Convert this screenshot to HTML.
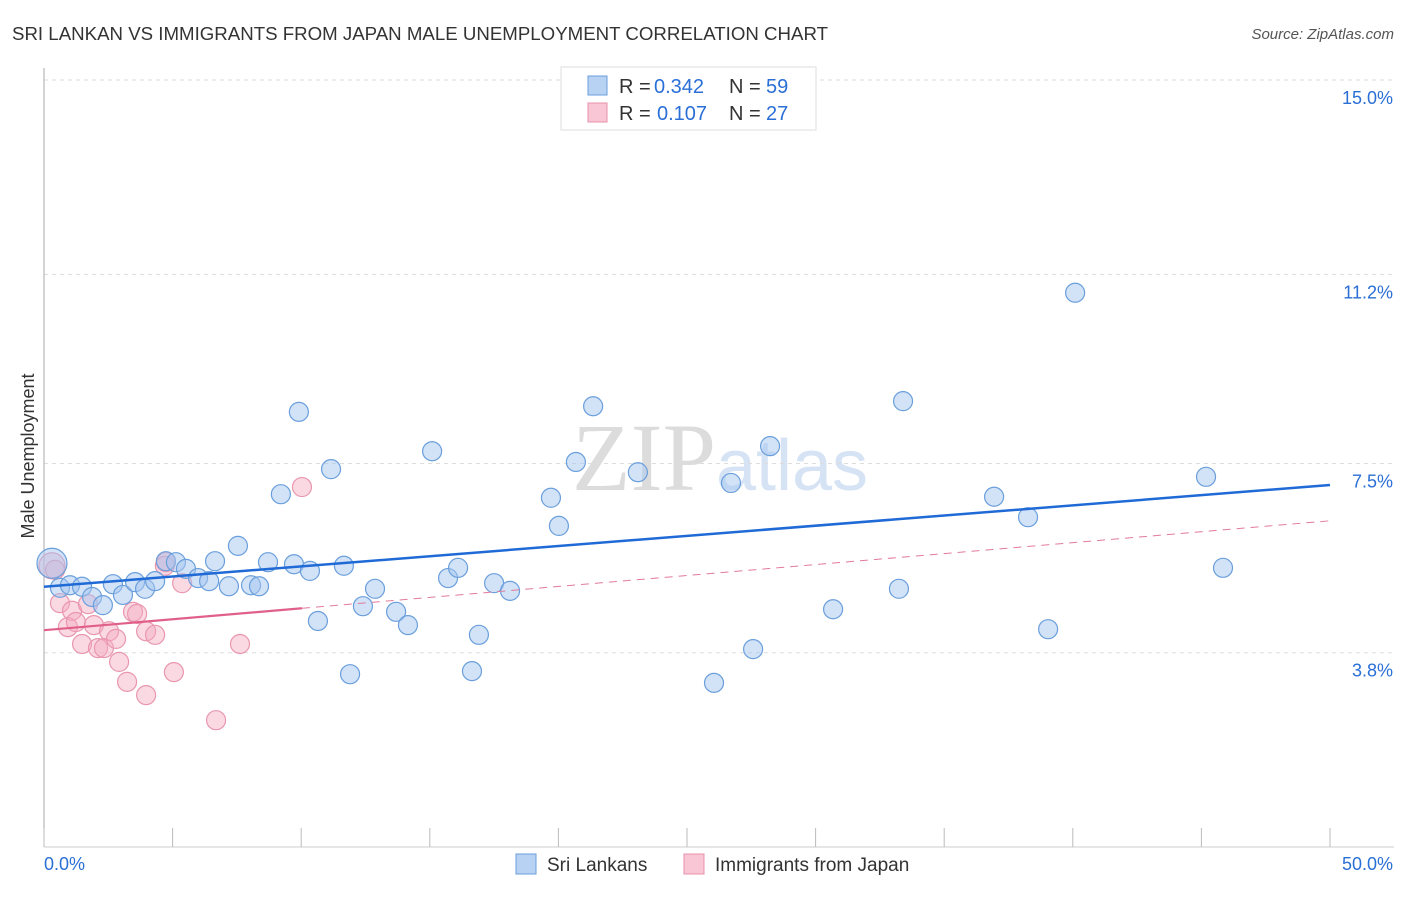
<!DOCTYPE html>
<html><head><meta charset="utf-8"><style>
body{margin:0;background:#fff;font-family:"Liberation Sans",sans-serif;}
svg text{font-family:"Liberation Sans",sans-serif;}
</style></head><body>
<svg width="1406" height="892" id="chart">
<text x="12" y="40" font-size="18" fill="#333" textLength="816" lengthAdjust="spacingAndGlyphs">SRI LANKAN VS IMMIGRANTS FROM JAPAN MALE UNEMPLOYMENT CORRELATION CHART</text>
<text x="1394" y="39" font-size="15" fill="#555" font-style="italic" text-anchor="end">Source: ZipAtlas.com</text>
<text x="720" y="490" font-size="96" fill="#e3e7ee" text-anchor="middle" font-family="Liberation Serif"><tspan fill="#dcdcdc" font-family="Liberation Serif">ZIP</tspan><tspan fill="#d5e3f5" font-size="72" font-family="Liberation Sans">atlas</tspan></text>
<g id="grid"></g>
<g id="marks"></g>
<text transform="translate(34,456) rotate(-90)" font-size="18" fill="#333" text-anchor="middle">Male Unemployment</text>
<g>
<rect x="561" y="67" width="255" height="63" fill="#fff" stroke="#ddd"/>
<rect x="588" y="76" width="19" height="19" fill="#b8d2f4" stroke="#6a9fdc"/>
<text x="619" y="93" font-size="20" fill="#333">R =</text>
<text x="654" y="93" font-size="20" fill="#2a6fd6">0.342</text>
<text x="729" y="93" font-size="20" fill="#333">N =</text>
<text x="766" y="93" font-size="20" fill="#2a6fd6">59</text>
<rect x="588" y="103" width="19" height="19" fill="#f8c6d4" stroke="#e890aa"/>
<text x="619" y="120" font-size="20" fill="#333">R =</text>
<text x="657" y="120" font-size="20" fill="#2a6fd6">0.107</text>
<text x="729" y="120" font-size="20" fill="#333">N =</text>
<text x="766" y="120" font-size="20" fill="#2a6fd6">27</text>
</g>
<g>
<rect x="516" y="854" width="20" height="20" fill="#b8d2f4" stroke="#6a9fdc"/>
<text x="547" y="871" font-size="19" fill="#333">Sri Lankans</text>
<rect x="684" y="854" width="20" height="20" fill="#f8c6d4" stroke="#e890aa"/>
<text x="715" y="871" font-size="19" fill="#333">Immigrants from Japan</text>
</g>
</svg>
<script>
const blueX=[0.31,0.62,1.01,1.48,1.87,2.29,2.68,3.07,3.54,3.93,4.32,4.74,5.13,5.52,5.99,6.42,6.65,7.19,7.54,8.05,8.36,8.71,9.21,9.72,9.91,10.34,10.65,11.16,11.66,11.90,12.40,12.87,13.69,14.15,15.09,15.71,16.10,16.64,16.91,17.50,18.12,19.71,20.02,20.68,21.35,23.09,26.05,26.71,27.57,28.23,30.68,33.24,33.40,36.94,38.26,39.04,40.09,45.18,45.84];
const blueY=[5.55,5.07,5.12,5.09,4.89,4.73,5.14,4.93,5.18,5.05,5.20,5.59,5.57,5.44,5.26,5.20,5.59,5.10,5.89,5.12,5.10,5.57,6.90,5.53,8.51,5.40,4.42,7.39,5.50,3.38,4.71,5.05,4.60,4.34,7.74,5.26,5.46,3.44,4.15,5.16,5.01,6.83,6.28,7.53,8.62,7.33,3.21,7.12,3.87,7.84,4.65,5.05,8.72,6.85,6.45,4.26,10.84,7.24,5.46];
const pinkX=[0.31,0.43,0.62,0.93,1.09,1.24,1.48,1.71,1.94,2.10,2.33,2.53,2.80,2.92,3.23,3.46,3.62,3.97,3.97,4.32,4.74,4.70,5.05,5.37,6.69,7.62,10.03];
const pinkY=[5.50,5.42,4.77,4.30,4.62,4.40,3.97,4.75,4.34,3.89,3.89,4.22,4.07,3.62,3.23,4.60,4.56,2.97,4.22,4.15,5.57,5.50,3.42,5.16,2.48,3.97,7.04];
const yTicks=[3.8,7.5,11.2,15.0];
const yTickLabels=["3.8%","7.5%","11.2%","15.0%"];
const xTickLabels=["0.0%","50.0%"];
const blueTrend=[5.09,7.08];
const pinkTrend=[4.24,6.38];
const pinkSolidEnd=10.03;

const X=v=>44+v*25.72, Y=v=>847-v*51.13;
const NS="http://www.w3.org/2000/svg";
function mk(t,a,p){const e=document.createElementNS(NS,t);for(const k in a)e.setAttribute(k,a[k]);p.appendChild(e);return e;}
const grid=document.getElementById('grid'), marks=document.getElementById('marks');
yTicks.forEach((v,i)=>{
 const l=mk('line',{x1:44,x2:1394,y1:Y(v),y2:Y(v),stroke:'#ddd','stroke-dasharray':'4,4'},grid);
 
 
 const t=mk('text',{x:1393,y:Y(v)+24,'font-size':18,fill:'#2a6fd6','text-anchor':'end'},grid);
 t.textContent=yTickLabels[i];
 
 
});
const ax=mk('line',{x1:44,x2:44,y1:68,y2:847,stroke:'#aaa'},grid);


const bx=mk('line',{x1:44,x2:1394,y1:847,y2:847,stroke:'#ccc'},grid);


for(let i=0;i<=10;i++){const tk=mk('line',{x1:X(i*5),x2:X(i*5),y1:828,y2:847,stroke:'#bbb'},grid);
 
 }
[[0,44,'start'],[1,1393,'end']].forEach(([i,x,a])=>{const t=mk('text',{x:x,y:870,'font-size':18,fill:'#2a6fd6','text-anchor':a},grid);t.textContent=xTickLabels[i];
 
 });
pinkX.forEach((v,i)=>{const c=mk('circle',{cx:X(v),cy:Y(pinkY[i]),r:i==0?13:9.5,fill:'rgba(245,170,192,0.45)',stroke:'#e996ae','stroke-width':1.2},marks);
 
 });
blueX.forEach((v,i)=>{const c=mk('circle',{cx:X(v),cy:Y(blueY[i]),r:i==0?15:9.5,fill:'rgba(165,198,240,0.5)',stroke:'#6a9fdc','stroke-width':1.2},marks);
 
 });
const pe=pinkTrend[0]+(pinkTrend[1]-pinkTrend[0])*pinkSolidEnd/50;
const pd=mk('line',{x1:X(pinkSolidEnd),y1:Y(pe),x2:X(50),y2:Y(pinkTrend[1]),stroke:'#e27a9a','stroke-width':1,'stroke-dasharray':'8,6'},marks);


const ps=mk('line',{x1:X(0),y1:Y(pinkTrend[0]),x2:X(pinkSolidEnd),y2:Y(pe),stroke:'#e0608a','stroke-width':2.2},marks);


const bl=mk('line',{x1:X(0),y1:Y(blueTrend[0]),x2:X(50),y2:Y(blueTrend[1]),stroke:'#1f6ad6','stroke-width':2.5},marks);


</script>
</body></html>
